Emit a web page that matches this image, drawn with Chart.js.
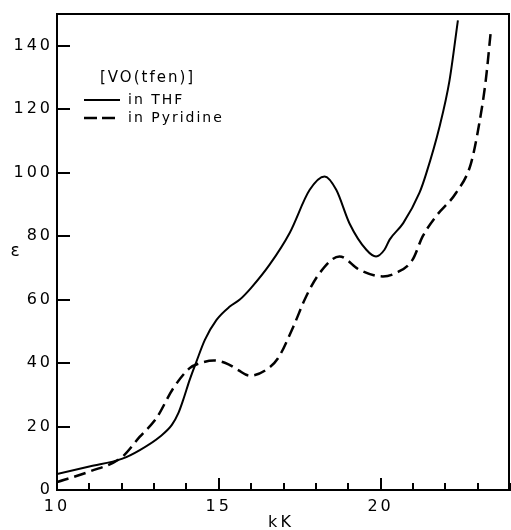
<!DOCTYPE html>
<html>
<head>
<meta charset="utf-8">
<script src="https://cdn.jsdelivr.net/npm/chart.js@4/dist/chart.umd.min.js"></script>
<style>
html,body{margin:0;padding:0;background:#fff;}
canvas{display:block;}
</style>
</head>
<body>
<canvas id="c" width="511" height="530"></canvas>
<script>
// ---- data ----
const legendTitle = "[VO(tfen)]";
const seriesNames = ["in THF", "in Pyridine"];
const xTitle = "kK";
const yTitle = "\u03b5";

const thfX = [10, 11, 12, 12.56, 13.18, 13.55, 13.75, 13.9, 14.1, 14.31, 14.57, 14.93, 15.34, 15.65, 16.0, 16.57, 17.19, 17.81, 18.27, 18.63, 19.04, 19.56, 19.86, 20.12, 20.28, 20.7, 21.2, 21.41, 21.82, 22.13, 22.39];
const thfY = [5, 7.4, 9.8, 12.6, 16.8, 20.5, 24.2, 28.4, 34.7, 40.5, 47.3, 53.6, 57.8, 60, 63.7, 71, 81, 94.6, 98.8, 94.6, 84, 75.7, 73.6, 75.7, 78.9, 84.1, 93.6, 99.7, 114.4, 129, 148];

const pyrX = [10, 11, 12, 12.56, 13.07, 13.59, 14.1, 14.4, 14.85, 15.3, 15.6, 15.96, 16.47, 16.83, 17.3, 17.7, 18.12, 18.73, 19.35, 20.07, 20.48, 20.99, 21.3, 21.71, 22.33, 22.79, 23.05, 23.25, 23.41];
const pyrY = [2.5, 5.8, 10.3, 16.8, 22.6, 32, 38.4, 39.9, 40.8, 39.6, 37.8, 36, 37.9, 41.5, 51.4, 61, 68.4, 73.6, 69.4, 67.3, 68.4, 72.6, 79.9, 86.2, 93.6, 102.8, 115.5, 129, 144.9];

const xMin = 10, xMax = 24, xStep = 1, xLabelEvery = 5;
const yMin = 0, yMax = 150, yStep = 20, yTickMax = 140;

const toPts = (xs, ys) => xs.map((x, i) => ({x: x, y: ys[i]}));

const FONT = "'DejaVu Sans', Verdana, sans-serif";

const decor = {
  id: 'decor',
  beforeDraw(chart) {
    chart.ctx.letterSpacing = '3px';
  },
  afterDraw(chart) {
    const ctx = chart.ctx;
    const a = chart.chartArea;
    const xs = chart.scales.x, ys = chart.scales.y;
    ctx.save();
    ctx.setLineDash([]);
    ctx.strokeStyle = '#000';
    ctx.fillStyle = '#000';
    // top and right frame
    ctx.lineWidth = 2;
    ctx.beginPath();
    ctx.moveTo(a.left, a.top); ctx.lineTo(a.right - 1, a.top); ctx.lineTo(a.right - 1, a.bottom);
    ctx.stroke();
    // inward ticks on x
    ctx.lineWidth = 2;
    for (let v = xMin; v <= xMax; v += xStep) {
      const px = Math.round(xs.getPixelForValue(v));
      const len = (v % xLabelEvery === 0) ? 12 : 7;
      ctx.beginPath(); ctx.moveTo(px, a.bottom); ctx.lineTo(px, a.bottom - len); ctx.stroke();
    }
    // inward ticks on y
    for (let v = yMin + yStep; v <= yTickMax; v += yStep) {
      const py = Math.round(ys.getPixelForValue(v));
      ctx.beginPath(); ctx.moveTo(a.left, py); ctx.lineTo(a.left + 13, py); ctx.stroke();
    }
    // axis titles
    ctx.textBaseline = 'middle';
    ctx.textAlign = 'center';
    ctx.letterSpacing = '3px';
    ctx.font = '16px ' + FONT;
    ctx.fillText(xTitle, 281, 523);
    ctx.letterSpacing = '0px';
    ctx.font = '17px ' + FONT;
    ctx.fillText(yTitle, 15, 252);
    // legend
    ctx.letterSpacing = '2px';
    ctx.font = '15px ' + FONT;
    ctx.textAlign = 'left';
    ctx.fillText(legendTitle, 100, 78);
    ctx.font = '14px ' + FONT;
    ctx.lineWidth = 2;
    ctx.beginPath(); ctx.moveTo(84, 100); ctx.lineTo(120, 100); ctx.stroke();
    ctx.fillText(seriesNames[0], 128, 100);
    ctx.lineWidth = 2.5;
    ctx.setLineDash([13, 5]);
    ctx.beginPath(); ctx.moveTo(84, 118); ctx.lineTo(120, 118); ctx.stroke();
    ctx.setLineDash([]);
    ctx.fillText(seriesNames[1], 128, 118);
    ctx.restore();
  }
};

new Chart(document.getElementById('c'), {
  type: 'line',
  data: {
    datasets: [
      {label: seriesNames[0], data: toPts(thfX, thfY), borderColor: '#000', borderWidth: 2, pointRadius: 0, cubicInterpolationMode: 'monotone', fill: false},
      {label: seriesNames[1], data: toPts(pyrX, pyrY), borderColor: '#000', borderWidth: 2.5, borderDash: [12, 6], pointRadius: 0, cubicInterpolationMode: 'monotone', fill: false}
    ]
  },
  options: {
    responsive: false,
    animation: false,
    layout: {padding: {top: 14, right: 1, left: 0, bottom: 0}},
    plugins: {legend: {display: false}, tooltip: {enabled: false}},
    scales: {
      x: {
        type: 'linear', min: xMin, max: xMax,
        afterFit: s => { s.height = 40; s.paddingLeft = 0; s.paddingRight = 0; },
        grid: {display: false, drawTicks: false},
        border: {display: true, color: '#000', width: 2},
        ticks: {
          stepSize: xStep, autoSkip: false, maxRotation: 0, padding: 7, color: '#000',
          font: {size: 16, family: FONT},
          callback: v => (v % xLabelEvery === 0 ? String(v) : '')
        }
      },
      y: {
        type: 'linear', min: yMin, max: yMax,
        afterFit: s => { s.width = 57; s.paddingTop = 0; s.paddingBottom = 0; },
        grid: {display: false, drawTicks: false},
        border: {display: true, color: '#000', width: 2},
        ticks: {
          stepSize: yStep, includeBounds: false, padding: 4, color: '#000',
          font: {size: 16, family: FONT}
        }
      }
    }
  },
  plugins: [decor]
});
</script>
</body>
</html>
